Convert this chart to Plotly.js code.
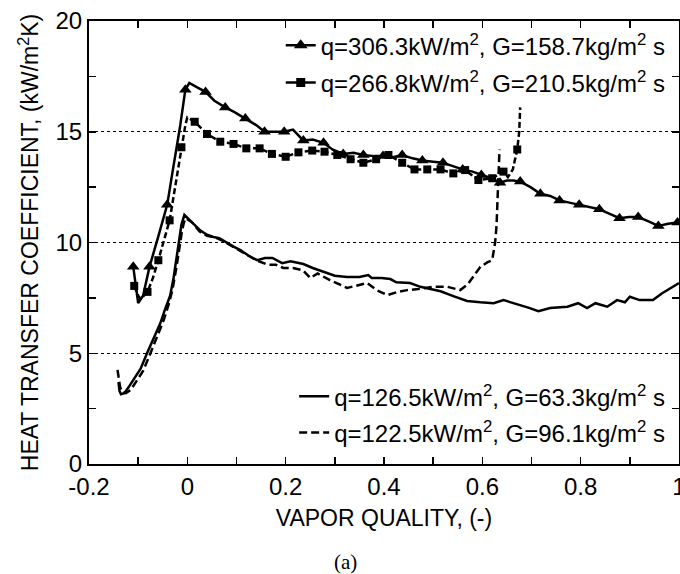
<!DOCTYPE html>
<html><head><meta charset="utf-8">
<script src="https://cdn.plot.ly/plotly-3.0.1.min.js"></script>
<style>html,body{margin:0;padding:0;background:#fff}</style>
</head><body><div id="chart" style="width:680px;height:574px"></div>
<script>
// ---- data ----
const legendNames = [
  'q=306.3kW/m<sup>2</sup>, G=158.7kg/m<sup>2</sup> s',
  'q=266.8kW/m<sup>2</sup>, G=210.5kg/m<sup>2</sup> s',
  'q=126.5kW/m<sup>2</sup>, G=63.3kg/m<sup>2</sup> s',
  'q=122.5kW/m<sup>2</sup>, G=96.1kg/m<sup>2</sup> s'
];
// q=306.3 (triangles)
const aLineX = [-0.11,-0.105,-0.1,-0.09,-0.077,-0.06,-0.041,-0.03,-0.015,-0.004,0.004,0.02,0.037,0.055,0.077,0.095,0.118,0.14,0.157,0.175,0.197,0.215,0.236,0.255,0.277,0.295,0.317,0.338,0.358,0.38,0.398,0.418,0.437,0.458,0.478,0.5,0.52,0.54,0.56,0.58,0.598,0.618,0.636,0.65,0.663,0.677,0.698,0.718,0.738,0.757,0.777,0.797,0.818,0.838,0.858,0.879,0.898,0.917,0.938,0.958,0.978,0.997,1.0];
const aLineY = [8.9,8.0,7.27,7.6,8.9,10.2,11.7,13.2,15.2,16.9,17.2,17.0,16.8,16.4,16.1,15.9,15.6,15.3,15.0,15.0,15.0,15.1,14.6,14.65,14.5,14.2,14.0,14.05,13.95,13.9,13.9,13.85,13.95,13.8,13.7,13.65,13.6,13.45,13.3,13.2,13.05,12.9,12.7,12.8,12.8,12.75,12.5,12.2,12.1,11.9,11.8,11.7,11.6,11.5,11.3,11.1,11.15,11.15,10.95,10.75,10.85,10.9,10.95];
const aMarkX = [-0.11,-0.077,-0.041,-0.004,0.037,0.077,0.118,0.157,0.197,0.236,0.277,0.317,0.358,0.398,0.437,0.478,0.52,0.56,0.598,0.636,0.677,0.718,0.757,0.797,0.838,0.879,0.917,0.958,0.997];
const aMarkY = [8.9,8.9,11.7,16.9,16.8,16.1,15.6,15.0,15.0,14.6,14.5,14.0,13.95,13.9,13.95,13.7,13.6,13.3,13.05,12.7,12.75,12.2,11.9,11.7,11.5,11.1,11.15,10.75,10.9];
// q=266.8 (squares)
const bLineX = [-0.108,-0.1,-0.095,-0.081,-0.07,-0.059,-0.036,-0.025,-0.012,-0.004,0.0,0.015,0.04,0.067,0.094,0.12,0.147,0.172,0.2,0.226,0.254,0.279,0.305,0.332,0.358,0.384,0.409,0.437,0.462,0.488,0.515,0.541,0.565,0.592,0.62,0.643,0.652,0.662,0.671,0.675,0.677];
const bLineY = [8.04,7.6,7.45,7.77,8.4,9.2,11.0,12.5,14.3,15.3,15.65,15.45,14.9,14.55,14.45,14.25,14.25,14.0,13.87,14.07,14.15,14.1,13.95,13.76,13.6,13.76,13.95,13.6,13.3,13.3,13.3,13.12,13.27,12.82,12.9,13.2,12.95,13.3,14.2,15.0,16.1];
const bMarkX = [-0.108,-0.081,-0.059,-0.036,-0.012,0.015,0.04,0.067,0.094,0.12,0.147,0.172,0.2,0.226,0.254,0.279,0.305,0.332,0.358,0.384,0.409,0.437,0.462,0.488,0.515,0.541,0.565,0.592,0.62,0.643,0.671];
const bMarkY = [8.04,7.77,9.2,11.0,14.3,15.45,14.9,14.55,14.45,14.25,14.25,14.0,13.87,14.07,14.15,14.1,13.95,13.76,13.6,13.76,13.95,13.6,13.3,13.3,13.3,13.12,13.27,12.82,12.9,13.2,14.2];
// q=126.5 (solid)
const cX = [-0.14,-0.138,-0.135,-0.128,-0.12,-0.11,-0.095,-0.082,-0.068,-0.055,-0.045,-0.035,-0.028,-0.022,-0.017,-0.012,-0.006,0.005,0.015,0.026,0.04,0.053,0.065,0.081,0.095,0.108,0.125,0.142,0.158,0.173,0.193,0.21,0.236,0.255,0.277,0.3,0.325,0.35,0.368,0.375,0.395,0.413,0.425,0.453,0.474,0.495,0.515,0.541,0.569,0.596,0.623,0.643,0.671,0.695,0.714,0.738,0.773,0.795,0.813,0.83,0.854,0.874,0.89,0.9,0.92,0.947,0.965,0.98,1.0];
const cY = [3.7,3.3,3.15,3.2,3.45,3.8,4.3,5.0,5.7,6.35,7.0,7.6,8.4,9.3,10.1,10.8,11.25,11.0,10.8,10.55,10.35,10.25,10.2,9.98,9.8,9.66,9.4,9.2,9.3,9.3,9.07,9.15,9.03,8.85,8.67,8.5,8.44,8.44,8.53,8.4,8.4,8.35,8.2,8.17,8.0,7.9,7.8,7.58,7.36,7.3,7.26,7.4,7.22,7.05,6.9,7.04,7.1,7.26,7.04,7.26,7.1,7.4,7.3,7.55,7.4,7.4,7.7,7.9,8.17];
// q=122.5 (dashed)
const dX = [-0.142,-0.14,-0.137,-0.133,-0.125,-0.115,-0.105,-0.09,-0.075,-0.06,-0.048,-0.038,-0.03,-0.022,-0.016,-0.011,-0.007,-0.003,0.01,0.025,0.04,0.055,0.07,0.085,0.1,0.12,0.14,0.163,0.18,0.195,0.215,0.235,0.25,0.265,0.29,0.325,0.345,0.366,0.385,0.407,0.425,0.447,0.47,0.5,0.529,0.555,0.57,0.582,0.596,0.61,0.62,0.626,0.629,0.631,0.633,0.635];
const dY = [4.25,3.9,3.5,3.25,3.2,3.35,3.7,4.2,5.0,5.8,6.5,7.2,7.9,8.9,9.9,10.5,10.9,11.1,10.9,10.5,10.3,10.25,10.1,9.9,9.7,9.45,9.2,9.0,9.0,8.85,8.85,8.75,8.4,8.6,8.3,7.95,8.05,8.17,7.85,7.63,7.75,7.85,7.9,8.0,8.0,7.85,8.1,8.45,8.9,9.1,9.2,10.0,10.8,12.0,13.2,14.2];
const xTickVals = [-0.2,0,0.2,0.4,0.6,0.8,1];
const xTickText = ['-0.2','0','0.2','0.4','0.6','0.8','1'];
const yTickVals = [0,5,10,15,20];
const yTickText = ['0','5','10','15','20'];

const FONT = 'Liberation Sans, Arial, sans-serif';
const LW = 2.5;
const traces = [
  {x:aLineX,y:aLineY,mode:'lines',line:{color:'#000',width:LW},showlegend:false,hoverinfo:'skip'},
  {x:aMarkX,y:aMarkY,mode:'markers',marker:{symbol:'triangle-up',size:11,color:'#000'},showlegend:false},
  {x:bLineX,y:bLineY,mode:'lines',line:{color:'#000',width:LW,dash:'6px,3px'},showlegend:false,hoverinfo:'skip'},
  {x:bMarkX,y:bMarkY,mode:'markers',marker:{symbol:'square',size:8,color:'#000'},showlegend:false},
  {x:cX,y:cY,mode:'lines',line:{color:'#000',width:LW},showlegend:false},
  {x:dX,y:dY,mode:'lines',line:{color:'#000',width:LW,dash:'8px,4px'},showlegend:false},
  // legend entries
  {x:[null],y:[null],name:legendNames[0],mode:'lines+markers',line:{color:'#000',width:LW},marker:{symbol:'triangle-up',size:12,color:'#000'},legend:'legend',legendgroup:'a'},
  {x:[null],y:[null],name:legendNames[1],mode:'lines+markers',line:{color:'#000',width:LW},marker:{symbol:'square',size:9,color:'#000'},legend:'legend',legendgroup:'b'},
  {x:[null],y:[null],name:legendNames[2],mode:'lines',line:{color:'#000',width:LW},legend:'legend2',legendgroup:'c'},
  {x:[null],y:[null],name:legendNames[3],mode:'lines',line:{color:'#000',width:LW,dash:'8px,4px'},legend:'legend2',legendgroup:'d'}
];
const layout = {
  width:680,height:574,
  margin:{l:89,r:1,t:21,b:110},
  paper_bgcolor:'#fff',plot_bgcolor:'#fff',
  font:{family:FONT,size:23,color:'#000'},
  xaxis:{range:[-0.2,1],tickmode:'array',tickvals:xTickVals,ticktext:xTickText,
    ticks:'inside',ticklen:7,tickwidth:1.5,tickcolor:'#000',ticklabeloverflow:'allow',
    minor:{dtick:0.1,tick0:-0.2,ticks:'inside',ticklen:7,tickwidth:1.5,tickcolor:'#000',showgrid:false},
    showline:true,linecolor:'#000',linewidth:2,mirror:'ticks',showgrid:false,zeroline:false,
    tickfont:{family:FONT,size:24},
    title:{text:'VAPOR QUALITY, (-)',font:{family:FONT,size:23},standoff:11},automargin:false},
  yaxis:{range:[0,20],tickmode:'array',tickvals:yTickVals,ticktext:yTickText,
    ticks:'inside',ticklen:7,tickwidth:1.5,tickcolor:'#000',ticklabeloverflow:'allow',
    minor:{dtick:2.5,tick0:0,ticks:'inside',ticklen:7,tickwidth:1.5,tickcolor:'#000',showgrid:false},
    showline:true,linecolor:'#000',linewidth:2,mirror:'ticks',
    showgrid:true,gridcolor:'#000',gridwidth:1,griddash:'dot',zeroline:false,
    tickfont:{family:FONT,size:24},
    title:{text:'HEAT TRANSFER COEFFICIENT, (kW/m<sup>2</sup>K)',font:{family:FONT,size:23},standoff:10},automargin:false},
  legend:{x:0.986,xanchor:'right',y:0.995,yanchor:'top',bgcolor:'rgba(0,0,0,0)',borderwidth:0,
    font:{family:FONT,size:24},tracegroupgap:3,traceorder:'grouped'},
  legend2:{x:0.985,xanchor:'right',y:0.02,yanchor:'bottom',bgcolor:'rgba(0,0,0,0)',borderwidth:0,
    font:{family:FONT,size:24},tracegroupgap:2,traceorder:'grouped'},
  annotations:[{text:'(a)',xref:'paper',yref:'paper',x:0.434,y:-0.222,xanchor:'center',yanchor:'middle',showarrow:false,
    font:{family:'Liberation Serif, Times New Roman, serif',size:21,color:'#000'}}]
};
Plotly.newPlot('chart',traces,layout,{displayModeBar:false,staticPlot:true});
</script>
</body></html>
